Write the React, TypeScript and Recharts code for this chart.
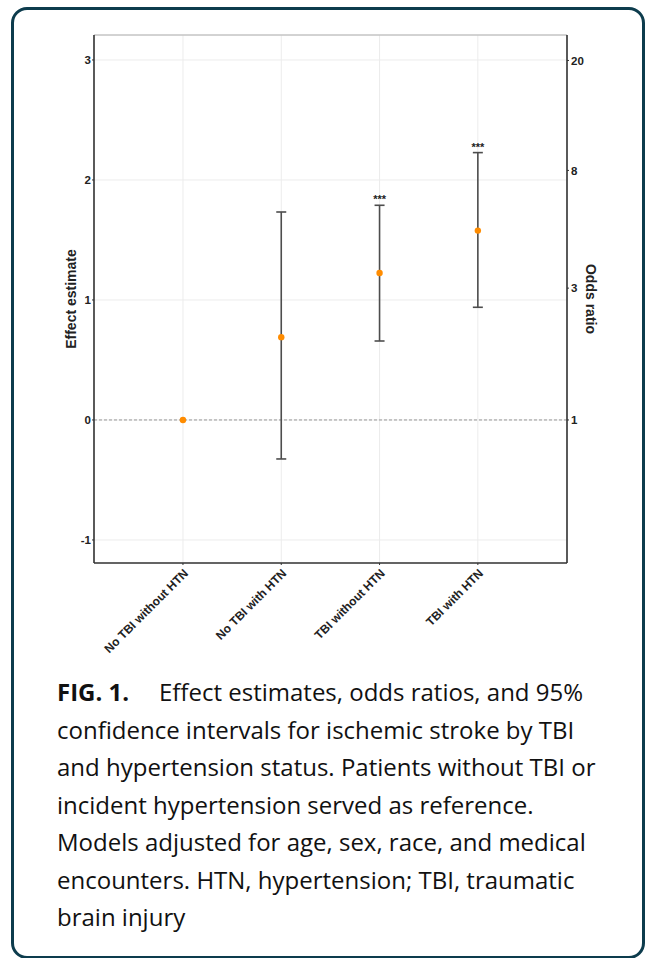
import React from "react";
import {
  ComposedChart,
  Scatter,
  ErrorBar,
  XAxis,
  YAxis,
  CartesianGrid,
  ReferenceLine,
} from "recharts";

const categories = ["No TBI without HTN", "No TBI with HTN", "TBI without HTN", "TBI with HTN"];
const estimates = [0, 0.69, 1.225, 1.578];
const lowerCI = [null, -0.325, 0.658, 0.939];
const upperCI = [null, 1.733, 1.789, 2.228];
const significance = ["", "", "***", "***"];
const effectTicks = [-1, 0, 1, 2, 3];
const oddsTicks = [1, 3, 8, 20];

const Y_MIN = -1.192;
const Y_MAX = 3.208;

const rows = categories.map((name, i) => {
  const lo = lowerCI[i];
  const hi = upperCI[i];
  return {
    pos: i + 1,
    name,
    est: estimates[i],
    err: lo === null || hi === null ? null : [estimates[i] - lo, hi - estimates[i]],
    upper: hi,
    sig: significance[i],
  };
});
const starRows = rows.filter((r) => r.sig !== "");

const FONT = "'Liberation Sans', Arial, sans-serif";
const INK = "#222";

const XTick = (props: any) => {
  const { x, y, payload } = props;
  const ax = x + 6;
  const ay = y + 9;
  return (
    <text
      x={ax}
      y={ay}
      transform={`rotate(-45, ${ax}, ${ay})`}
      textAnchor="end"
      fontFamily={FONT}
      fontWeight="bold"
      fontSize={12}
      fill={INK}
    >
      {categories[payload.value - 1]}
    </text>
  );
};

const Dot = (props: any) => {
  const { cx, cy } = props;
  return <circle cx={cx} cy={cy} r={3.2} fill="#ff8c00" />;
};

const Stars = (props: any) => {
  const { cx, cy, payload } = props;
  return (
    <text x={cx} y={cy - 2} textAnchor="middle" fontFamily={FONT} fontWeight="bold" fontSize={11} fill={INK}>
      {payload.sig}
    </text>
  );
};

const Chart = () => (
  <ComposedChart
    width={645}
    height={680}
    data={rows}
    margin={{ top: 35, right: 38, left: 64, bottom: 0 }}
  >
    <CartesianGrid yAxisId="left" stroke="#ececec" strokeWidth={1} />
    <XAxis
      type="number"
      dataKey="pos"
      domain={[0.095, 4.907]}
      allowDataOverflow
      ticks={[1, 2, 3, 4]}
      interval={0}
      height={117}
      tick={<XTick />}
      tickSize={2}
      tickMargin={0}
      axisLine={{ stroke: "#333", strokeWidth: 1.6 }}
      tickLine={{ stroke: "#333" }}
    />
    <YAxis
      yAxisId="left"
      type="number"
      domain={[Y_MIN, Y_MAX]}
      allowDataOverflow
      ticks={effectTicks}
      width={30}
      tickSize={2}
      tickMargin={1}
      tick={{ fontFamily: FONT, fontWeight: "bold", fontSize: 11.5, fill: INK }}
      axisLine={{ stroke: "#333", strokeWidth: 1.6 }}
      tickLine={{ stroke: "#333" }}
      label={{
        content: () => (
          <text
            x={71}
            y={299}
            transform="rotate(-90, 71, 299)"
            textAnchor="middle"
            dominantBaseline="central"
            fontFamily={FONT}
            fontWeight="bold"
            fontSize={14}
            fill={INK}
          >
            Effect estimate
          </text>
        ),
      }}
    />
    <YAxis
      yAxisId="right"
      orientation="right"
      type="number"
      domain={[Y_MIN, Y_MAX]}
      allowDataOverflow
      ticks={oddsTicks.map((v) => Math.log(v))}
      tickFormatter={(v: number) => String(Math.round(Math.exp(v)))}
      width={40}
      tickSize={2}
      tickMargin={2}
      tick={{ fontFamily: FONT, fontWeight: "bold", fontSize: 11.5, fill: INK }}
      axisLine={{ stroke: "#333", strokeWidth: 1.6 }}
      tickLine={{ stroke: "#333" }}
      label={{
        content: () => (
          <text
            x={591}
            y={299}
            transform="rotate(90, 591, 299)"
            textAnchor="middle"
            dominantBaseline="central"
            fontFamily={FONT}
            fontWeight="bold"
            fontSize={14}
            fill={INK}
          >
            Odds ratio
          </text>
        ),
      }}
    />
    <ReferenceLine yAxisId="left" y={Y_MAX} stroke="#b0b0b0" strokeWidth={1} />
    <ReferenceLine yAxisId="left" y={0} stroke="#999" strokeDasharray="3 2" strokeWidth={1} />
    <Scatter
      yAxisId="left"
      dataKey="est"
      fill="#ff8c00"
      shape={<Dot />}
      isAnimationActive={false}
    >
      <ErrorBar dataKey="err" direction="y" width={5} stroke="#4d4d4d" strokeWidth={1.6} />
    </Scatter>
    <Scatter
      yAxisId="left"
      data={starRows}
      dataKey="upper"
      shape={<Stars />}
      isAnimationActive={false}
    />
  </ComposedChart>
);

export default function App() {
  return (
    <div style={{ position: "absolute", left: 0, top: 0, width: 645, height: 958, background: "#fff" }}>
      <div
        style={{
          position: "absolute",
          left: 11,
          top: 7,
          width: 634,
          height: 952,
          border: "3px solid #0d3c4d",
          borderRadius: 16,
          boxSizing: "border-box",
        }}
      />
      <div style={{ position: "absolute", left: 0, top: 0 }}>
        <Chart />
      </div>
      <div
        style={{
          position: "absolute",
          left: 57,
          top: 673,
          fontFamily: "'Open Sans', sans-serif",
          fontSize: 24,
          lineHeight: "37.5px",
          color: "#111",
          whiteSpace: "nowrap",
        }}
      >
        <div>
          <span style={{ display: "inline-block", width: 102, fontWeight: "bold" }}>FIG. 1.</span>
          Effect estimates, odds ratios, and 95%
        </div>
        <div>confidence intervals for ischemic stroke by TBI</div>
        <div>and hypertension status. Patients without TBI or</div>
        <div>incident hypertension served as reference.</div>
        <div>Models adjusted for age, sex, race, and medical</div>
        <div>encounters. HTN, hypertension; TBI, traumatic</div>
        <div>brain injury</div>
      </div>
    </div>
  );
}
